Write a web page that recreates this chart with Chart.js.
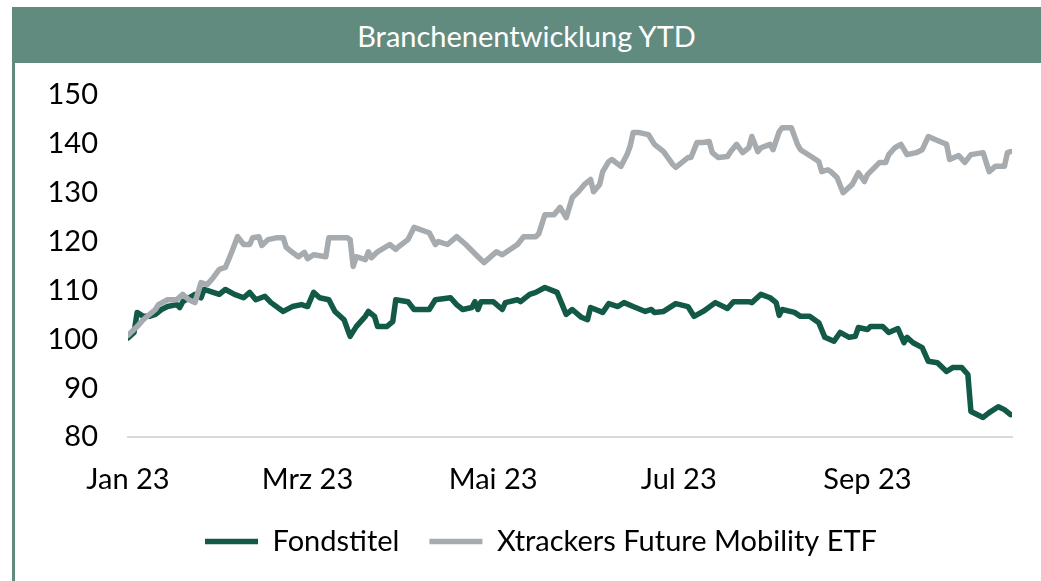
<!DOCTYPE html>
<html>
<head>
<meta charset="utf-8">
<script src="https://cdn.jsdelivr.net/npm/chart.js@4"></script>
<style>
  body { margin: 0; background: #fff; font-family: Lato, sans-serif; }
  #frame {
    position: absolute; left: 12px; top: 7px; width: 1026px; height: 640px;
    border-left: 3px solid #628b80; border-right: 2px solid #628b80;
  }
  #title {
    position: absolute; left: 12px; top: 7px; width: 1029px; height: 56px;
    background: #628b80; color: #fff; font-size: 29px; line-height: 58px;
    text-align: center;
  }
  #graph { position: absolute; left: 16px; top: 63px; }
</style>
</head>
<body>
<div id="frame"></div>
<div id="title">Branchenentwicklung YTD</div>
<canvas id="graph" width="1023" height="503"></canvas>
<script>
// days counted from 1 Jan 2023
const tickDays = [0, 59, 120, 181, 243];
const tickLabels = ['Jan 23', 'Mrz 23', 'Mai 23', 'Jul 23', 'Sep 23'];

const fondDays = [0, 2, 3, 5, 7, 9, 11, 13, 16, 17, 18, 22, 24, 25, 28, 30, 32, 35, 38, 40,
    42, 45, 47, 51, 54, 57, 59, 61, 63, 66, 68, 71, 73, 75, 78, 79, 81, 82, 85, 87,
    88, 92, 94, 99, 101, 106, 108, 110, 113, 114, 115, 116, 120, 123, 124, 128, 129, 132, 134, 137,
    141, 144, 146, 149, 151, 152, 156, 158, 161, 163, 166, 170, 172, 173, 176, 180, 184, 186, 189, 193,
    197, 199, 204, 205, 208, 211, 213, 214, 215, 219, 221, 224, 227, 229, 232, 234, 237, 239, 240, 243,
    244, 248, 250, 253, 255, 256, 258, 261, 263, 266, 269, 271, 274, 276, 277, 281, 283, 286, 288, 290];
const fondValues = [100.3, 101.4, 105.5, 104.7, 104.7, 105.1, 106.1, 106.7, 107.1, 106.5, 107.7, 109.2, 108.5, 110.2, 109.6, 109.2, 110.2, 109.2, 108.5, 109.6,
    108.1, 108.8, 107.5, 105.7, 106.7, 107.1, 106.7, 109.6, 108.5, 108.1, 105.7, 104.0, 100.6, 102.6, 104.7, 105.7, 104.7, 102.6, 102.6, 103.6,
    108.1, 107.7, 106.1, 106.1, 108.1, 108.5, 107.1, 106.1, 106.5, 107.7, 106.1, 107.7, 107.7, 106.1, 107.5, 108.1, 107.7, 109.2, 109.6, 110.6,
    109.6, 105.1, 106.1, 104.5, 104.0, 106.5, 105.5, 107.3, 106.7, 107.5, 106.7, 105.7, 106.1, 105.5, 105.7, 107.3, 106.7, 104.7, 105.7, 107.5,
    106.3, 107.7, 107.7, 107.5, 109.2, 108.5, 107.5, 104.9, 106.1, 105.5, 104.7, 104.7, 103.4, 100.4, 99.6, 101.4, 100.4, 100.6, 102.4, 102.0,
    102.6, 102.6, 101.4, 102.2, 99.3, 100.4, 99.3, 98.3, 95.5, 95.2, 93.4, 94.2, 94.2, 92.8, 85.2, 84.0, 85.0, 86.2, 85.6, 84.6];

const etfDays = [0, 3, 5, 9, 10, 13, 16, 18, 20, 22, 24, 26, 28, 30, 32, 34, 36, 38, 40, 41,
    43, 44, 46, 49, 51, 52, 54, 56, 58, 59, 61, 65, 66, 72, 73, 74, 75, 78, 79, 80,
    82, 86, 88, 89, 92, 94, 99, 101, 102, 105, 108, 111, 115, 117, 121, 123, 128, 130, 134, 135,
    137, 140, 142, 144, 146, 148, 150, 152, 153, 155, 156, 158, 159, 162, 164, 165, 166, 168, 171, 173,
    176, 179, 180, 184, 185, 187, 189, 191, 192, 194, 197, 198, 200, 202, 204, 205, 207, 208, 211, 212,
    214, 215, 218, 220, 221, 225, 227, 228, 230, 231, 233, 235, 238, 240, 242, 243, 247, 249, 250, 252,
    254, 256, 259, 261, 263, 266, 269, 270, 273, 275, 277, 281, 283, 285, 288, 289, 290];
const etfValues = [100.8, 102.6, 104.0, 106.1, 107.1, 108.1, 108.1, 109.2, 108.1, 107.5, 111.6, 111.2, 112.6, 114.3, 114.7, 117.7, 121.0, 119.4, 119.4, 120.8,
    121.0, 119.2, 120.4, 120.8, 120.8, 118.8, 117.8, 116.9, 117.8, 116.5, 117.3, 116.9, 120.8, 120.8, 120.4, 114.9, 116.9, 116.3, 117.9, 116.7,
    117.9, 119.4, 118.4, 119.0, 120.4, 122.9, 121.8, 119.4, 120.0, 119.4, 121.0, 119.4, 116.9, 115.7, 117.9, 117.3, 119.4, 121.0, 121.0, 121.6,
    125.5, 125.5, 127.0, 124.9, 129.0, 130.2, 131.7, 132.7, 130.2, 131.7, 134.3, 136.4, 136.8, 135.4, 137.8, 139.5, 142.3, 142.3, 141.9, 139.9,
    138.4, 135.8, 135.2, 137.2, 137.2, 140.3, 140.3, 140.5, 138.2, 137.2, 137.4, 138.4, 139.9, 138.2, 139.2, 141.5, 138.4, 139.2, 139.9, 138.8,
    142.5, 143.3, 143.3, 139.9, 138.8, 137.2, 136.4, 134.3, 134.7, 134.3, 133.1, 130.0, 131.7, 134.1, 132.3, 133.7, 136.2, 136.2, 137.8, 139.2,
    139.9, 137.8, 138.2, 138.8, 141.5, 140.7, 139.9, 136.8, 137.6, 136.2, 137.8, 138.2, 134.3, 135.4, 135.4, 138.2, 138.4];

const toPoints = (days, values) => days.map((d, i) => ({ x: d, y: values[i] }));

const graphContext = document.querySelector('#graph');

// legend sits a bit right of the canvas centre in the original
const shiftLegend = {
    id: 'shiftLegend',
    afterLayout(chart) {
        chart.legend.left += 54;
    }
};

new Chart(graphContext, {
    type: 'line',
    data: {
        datasets: [
            {
                label: 'Fondstitel',
                data: toPoints(fondDays, fondValues),
                borderColor: '#125a47',
                backgroundColor: '#125a47',
                borderWidth: 5.5,
                order: 1
            },
            {
                label: 'Xtrackers Future Mobility ETF',
                data: toPoints(etfDays, etfValues),
                borderColor: '#a6abaf',
                backgroundColor: '#a6abaf',
                borderWidth: 5.5,
                order: 0
            }
        ]
    },
    options: {
        responsive: false,
        animation: false,
        devicePixelRatio: 1,
        layout: { padding: { left: 0, right: 27, top: 32, bottom: 0 } },
        elements: {
            point: { radius: 0 },
            line: { tension: 0, borderJoinStyle: 'round', borderCapStyle: 'round' }
        },
        scales: {
            x: {
                type: 'linear',
                min: 0,
                max: 290.5,
                grid: { display: false, drawTicks: false },
                border: { display: true, color: '#d9d9d9', width: 2 },
                afterBuildTicks: (scale) => {
                    scale.ticks = tickDays.map(v => ({ value: v }));
                },
                afterFit: (scale) => { scale.height = 60; },
                ticks: {
                    padding: 25,
                    maxRotation: 0,
                    autoSkip: false,
                    color: '#000',
                    font: { family: 'Lato', size: 29 },
                    callback: (value) => tickLabels[tickDays.indexOf(value)]
                }
            },
            y: {
                min: 80,
                max: 150,
                grid: { display: false, drawTicks: true, tickLength: 30 },
                border: { display: false },
                afterFit: (scale) => { scale.width = 112; },
                ticks: {
                    stepSize: 10,
                    padding: 0,
                    color: '#000',
                    font: { family: 'Lato', size: 29 }
                }
            }
        },
        plugins: {
            legend: {
                position: 'bottom',
                labels: {
                    usePointStyle: true,
                    pointStyle: 'line',
                    pointStyleWidth: 53,
                    padding: 30,
                    color: '#000',
                    font: { family: 'Lato', size: 29 },
                    sort: (a, b) => a.datasetIndex - b.datasetIndex
                }
            },
            title: { display: false },
            tooltip: { enabled: false }
        }
    },
    plugins: [shiftLegend]
});
</script>
</body>
</html>
